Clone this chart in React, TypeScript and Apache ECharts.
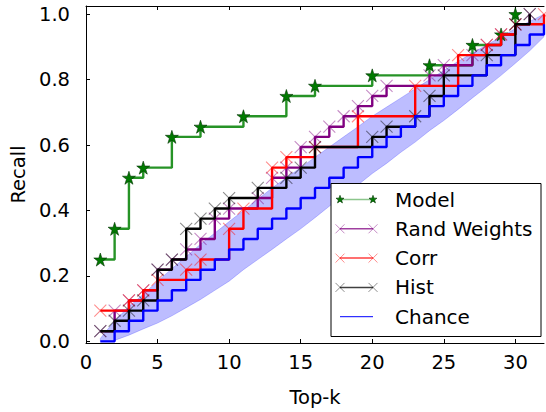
import React, { useEffect, useRef } from "react";
import * as echarts from "echarts";

// ---- data (recall at top-k) ----
const kModel = [1, 2, 3, 4, 6, 8, 11, 14, 16, 20, 24, 27, 29, 30];
const recallModel = [0.25, 0.344, 0.5, 0.531, 0.625, 0.656, 0.688, 0.75, 0.781, 0.813, 0.844, 0.906, 0.938, 1.0];

const kRand = [1, 2, 3, 4, 5, 6, 7, 8, 9, 10, 12, 13, 14, 15, 16, 17, 18, 19, 20, 21, 24, 25, 27, 28, 29, 30, 31];
const recallRand = [0.031, 0.094, 0.125, 0.156, 0.219, 0.25, 0.281, 0.313, 0.375, 0.406, 0.438, 0.5, 0.531, 0.594, 0.625, 0.656, 0.688, 0.719, 0.75, 0.781, 0.813, 0.844, 0.875, 0.906, 0.938, 0.969, 1.0];

const kCorr = [1, 3, 4, 5, 7, 8, 10, 11, 13, 14, 16, 19, 23, 26, 28, 29, 30, 32];
const recallCorr = [0.094, 0.125, 0.156, 0.188, 0.219, 0.25, 0.344, 0.406, 0.531, 0.563, 0.594, 0.688, 0.781, 0.875, 0.906, 0.938, 0.969, 1.0];

const kHist = [1, 2, 3, 4, 5, 6, 7, 8, 9, 10, 12, 14, 15, 16, 20, 21, 23, 24, 25, 28, 30, 31];
const recallHist = [0.031, 0.063, 0.094, 0.125, 0.219, 0.25, 0.344, 0.375, 0.406, 0.438, 0.469, 0.5, 0.531, 0.594, 0.625, 0.656, 0.688, 0.75, 0.813, 0.875, 0.969, 1.0];

const kChance = [1, 2, 3, 4, 5, 6, 7, 8, 9, 10, 11, 12, 13, 14, 15, 16, 17, 18, 19, 20, 21, 22, 23, 24, 25, 26, 27, 28, 29, 30, 31, 32];
const recallChance = [0, 0.031, 0.063, 0.094, 0.125, 0.156, 0.188, 0.219, 0.25, 0.281, 0.313, 0.344, 0.375, 0.406, 0.438, 0.469, 0.5, 0.531, 0.563, 0.594, 0.625, 0.656, 0.688, 0.719, 0.75, 0.781, 0.813, 0.844, 0.875, 0.906, 0.938, 0.969];
const chanceLower = [0, 0.003, 0.019, 0.038, 0.056, 0.078, 0.103, 0.128, 0.156, 0.184, 0.219, 0.25, 0.281, 0.313, 0.344, 0.378, 0.413, 0.447, 0.478, 0.513, 0.544, 0.578, 0.609, 0.644, 0.675, 0.709, 0.744, 0.778, 0.813, 0.85, 0.888, 0.931];
const chanceUpper = [0.009, 0.063, 0.106, 0.144, 0.184, 0.222, 0.259, 0.297, 0.331, 0.366, 0.4, 0.434, 0.469, 0.5, 0.531, 0.563, 0.594, 0.625, 0.656, 0.688, 0.716, 0.744, 0.772, 0.8, 0.828, 0.856, 0.881, 0.906, 0.931, 0.956, 0.978, 1.0];

const xTicks = [0, 5, 10, 15, 20, 25, 30];
const yTicks = [0, 0.2, 0.4, 0.6, 0.8, 1.0];
const legendNames = ["Model", "Rand Weights", "Corr", "Hist", "Chance"];

const FONT = "DejaVu Sans";
const STAR = "path://M5,0L6.18,3.6L10,3.6L6.9,5.9L8.1,9.5L5,7.3L1.9,9.5L3.1,5.9L0,3.6L3.82,3.6Z";
const CROSS = "path://M0,0L10,10M10,0L0,10";

const zip = (ks: number[], vs: number[]) => ks.map((k, i) => [k, vs[i]]);

function starPoints(cx: number, cy: number, r: number) {
  const pts: number[][] = [];
  for (let i = 0; i < 10; i++) {
    const a = -Math.PI / 2 + (i * Math.PI) / 5;
    const rr = i % 2 === 0 ? r : r * 0.4;
    pts.push([cx + rr * Math.cos(a), cy + rr * Math.sin(a)]);
  }
  return pts;
}

function crossEls(cx: number, cy: number, h: number, stroke: string) {
  return [
    { type: "line", z: 101, shape: { x1: cx - h, y1: cy - h, x2: cx + h, y2: cy + h }, style: { stroke, lineWidth: 1 } },
    { type: "line", z: 101, shape: { x1: cx - h, y1: cy + h, x2: cx + h, y2: cy - h }, style: { stroke, lineWidth: 1 } },
  ];
}

export default function App() {
  const ref = useRef<HTMLDivElement>(null);
  useEffect(() => {
    if (!ref.current) return;
    const chart = echarts.init(ref.current, undefined, { renderer: "svg" });

    const lineColors = ["rgba(0,128,0,0.85)", "#800080", "#ff0000", "#000000", "#0000ff"];
    const markColors = ["#007a00", "rgba(128,0,128,0.45)", "rgba(255,0,0,0.45)", "rgba(0,0,0,0.45)", ""];

    // legend drawn with graphic elements (matplotlib-like: markers at both ends)
    const lg: any[] = [];
    const boxX = 331, boxY = 183.5, boxW = 210, boxH = 153;
    lg.push({ type: "rect", z: 100, shape: { x: boxX, y: boxY, width: boxW, height: boxH }, style: { fill: "#fff", stroke: "#000", lineWidth: 1 } });
    legendNames.forEach((name, i) => {
      const cy = 199.5 + i * 29.3;
      const x1 = 340, x2 = 373;
      lg.push({ type: "line", z: 101, shape: { x1, y1: cy, x2, y2: cy }, style: { stroke: i === 0 ? "rgba(0,128,0,0.6)" : i === 4 ? "#0000ff" : lineColors[i], lineWidth: i === 4 ? 1 : 1.5, opacity: i === 4 ? 1 : 0.75 } });
      if (i === 0) {
        [x1, x2].forEach((x) => lg.push({ type: "polygon", z: 102, shape: { points: starPoints(x, cy, 4.2) }, style: { fill: "#007a00", stroke: "#003300", lineWidth: 0.6 } }));
      } else if (i < 4) {
        [x1, x2].forEach((x) => crossEls(x, cy, 4.5, markColors[i]).forEach((e) => lg.push(e)));
      }
      lg.push({ type: "text", z: 102, x: 395, y: cy, style: { text: name, font: `20px "${FONT}"`, fill: "#000", verticalAlign: "middle", align: "left" } });
    });

    const crossSeries = (name: string, ks: number[], vs: number[], idx: number) => ({
      name,
      type: "line",
      step: "end",
      data: zip(ks, vs),
      symbol: CROSS,
      symbolSize: 12,
      showAllSymbol: true,
      lineStyle: { color: lineColors[idx], width: 2.4 },
      itemStyle: { color: "rgba(0,0,0,0)", borderColor: markColors[idx], borderWidth: 1.1 },
      emphasis: { disabled: true },
    });

    const option: any = {
      animation: false,
      grid: { left: 86, right: 2, top: 6, bottom: 66, containLabel: false },
      xAxis: [
        {
          type: "value", min: 0, max: 32, position: "bottom",
          axisLine: { show: true, onZero: false, lineStyle: { color: "#000", width: 1 } },
          axisTick: { show: true, inside: true, length: 4, customValues: xTicks, lineStyle: { color: "#000" } },
          axisLabel: { customValues: xTicks, margin: 9, fontSize: 19.5, fontFamily: FONT, color: "#000" },
          splitLine: { show: false },
          name: "Top-k", nameLocation: "middle", nameGap: 44,
          nameTextStyle: { fontSize: 19.5, fontFamily: FONT, color: "#000" },
        },
        {
          type: "value", min: 0, max: 32, position: "top",
          axisLine: { show: true, onZero: false, lineStyle: { color: "#000", width: 1 } },
          axisTick: { show: true, inside: true, length: 4, customValues: xTicks, lineStyle: { color: "#000" } },
          axisLabel: { show: false },
          splitLine: { show: false },
        },
      ],
      yAxis: [
        {
          type: "value", min: -0.005, max: 1.025, position: "left",
          axisLine: { show: true, onZero: false, lineStyle: { color: "#000", width: 1 } },
          axisTick: { show: true, inside: true, length: 4, customValues: yTicks, lineStyle: { color: "#000" } },
          axisLabel: { customValues: yTicks, margin: 16, fontSize: 19.5, fontFamily: FONT, color: "#000", formatter: (v: number) => v.toFixed(1) },
          splitLine: { show: false },
          name: "Recall", nameLocation: "middle", nameGap: 52, nameRotate: 90,
          nameTextStyle: { fontSize: 19.5, fontFamily: FONT, color: "#000" },
        },
      ],
      series: [
        {
          name: "band",
          type: "custom",
          data: zip(kChance, recallChance),
          encode: { x: 0, y: 1 },
          silent: true,
          z: 1,
          renderItem: (params: any, api: any) => {
            if (params.dataIndex !== 0) return { type: "group", children: [] };
            const pts: number[][] = [];
            for (let i = 0; i < kChance.length; i++) pts.push(api.coord([kChance[i], chanceUpper[i]]));
            for (let i = kChance.length - 1; i >= 0; i--) pts.push(api.coord([kChance[i], chanceLower[i]]));
            return { type: "polygon", shape: { points: pts }, style: { fill: "rgba(0,0,255,0.26)", stroke: "rgba(0,0,255,0.2)", lineWidth: 1 } };
          },
        },
        {
          name: "Model",
          type: "line",
          step: "end",
          z: 2,
          data: zip(kModel, recallModel),
          symbol: STAR,
          symbolSize: 13,
          showAllSymbol: true,
          lineStyle: { color: lineColors[0], width: 2.4 },
          itemStyle: { color: "#007a00", borderColor: "#003300", borderWidth: 0.6 },
          emphasis: { disabled: true },
        },
        { ...crossSeries("Rand Weights", kRand, recallRand, 1), z: 3 },
        { ...crossSeries("Corr", kCorr, recallCorr, 2), z: 4 },
        { ...crossSeries("Hist", kHist, recallHist, 3), z: 5 },
        {
          name: "Chance",
          type: "line",
          step: "end",
          z: 6,
          data: zip(kChance, recallChance),
          showSymbol: false,
          symbol: "none",
          lineStyle: { color: lineColors[4], width: 2.4 },
          emphasis: { disabled: true },
        },
      ],
      graphic: lg,
    };
    chart.setOption(option);
    return () => chart.dispose();
  }, []);

  return <div ref={ref} style={{ width: 546, height: 412, position: "absolute", left: 0, top: 0, background: "#fff" }} />;
}
